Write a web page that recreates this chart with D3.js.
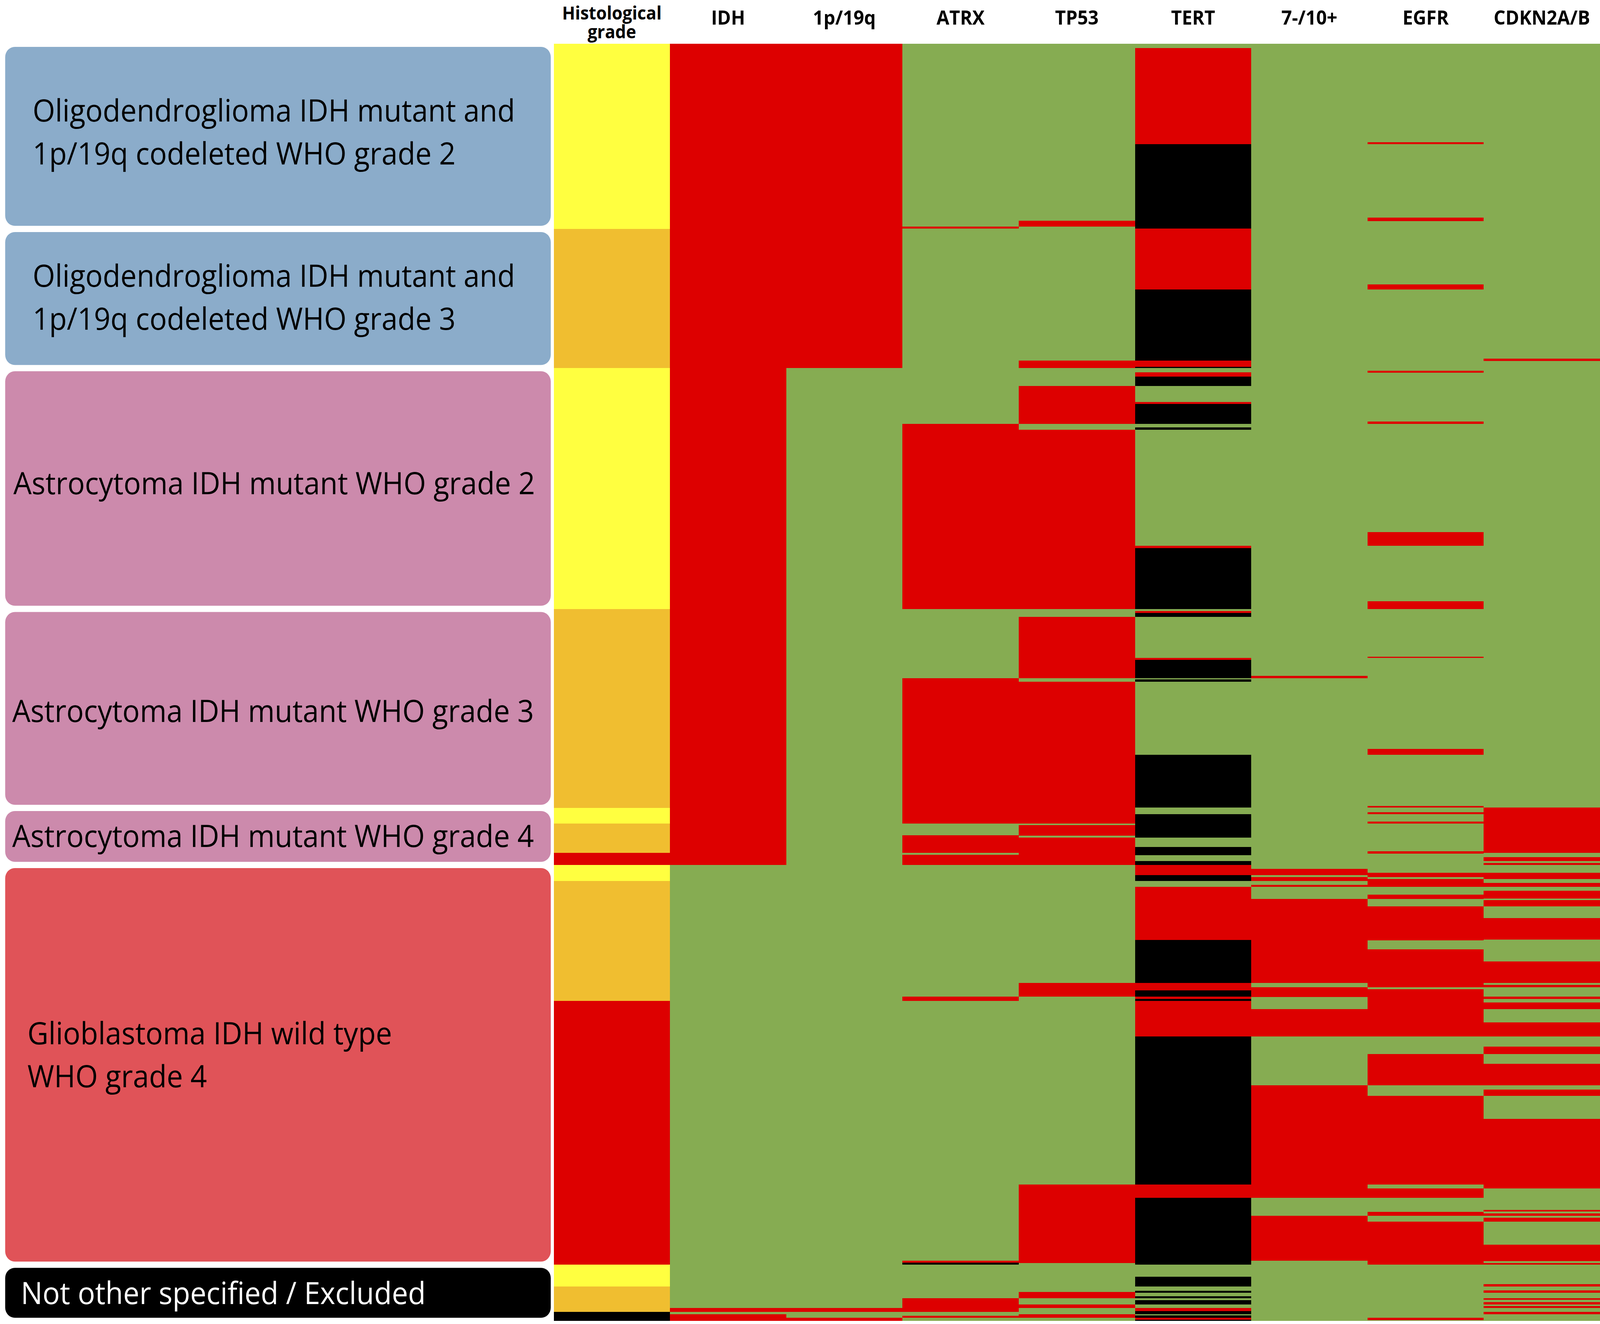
<!DOCTYPE html>
<html>
<head>
<meta charset="utf-8">
<script src="https://cdn.jsdelivr.net/npm/d3@7"></script>
<style>
  html, body { margin: 0; padding: 0; background: #fff; width: 100%; height: 100%; overflow: hidden; }
  #chart { width: 100vw; height: 100vh; }
  svg { display: block; width: 100vw; height: 100vh; }
</style>
</head>
<body>
<div id="chart"></div>
<script>
// ---- data (row index of the sorted samples, 0..600) ----
const columns = ["Histological grade", "IDH", "1p/19q", "ATRX", "TP53", "TERT", "7-/10+", "EGFR", "CDKN2A/B"];
const headerLines = [["Histological", "grade"], ["IDH"], ["1p/19q"], ["ATRX"], ["TP53"], ["TERT"], ["7-/10+"], ["EGFR"], ["CDKN2A/B"]];
const totalSamples = 600;

// state codes: Y grade 2, O grade 3, R grade 4 / altered, K not available, G wild type / not altered
const histGrade = [
  [0, 87, "Y"], [87, 152.4, "O"], [152.4, 265.5, "Y"], [265.5, 359, "O"], [359, 366.3, "Y"],
  [366.3, 380.2, "O"], [380.2, 385.8, "R"], [385.8, 393.3, "Y"], [393.3, 449.7, "O"],
  [449.7, 573.6, "R"], [573.6, 583.9, "Y"], [583.9, 595.8, "O"], [595.8, 600, "K"]
];
const idh = [[0, 385.8, "R"], [594, 595.8, "R"], [596.8, 600, "R"]];
const codel = [[0, 152.4, "R"], [594, 595.8, "R"], [598.6, 600, "R"]];
const atrx = [
  [85.9, 86.9, "R"], [178.5, 265.5, "R"], [298, 366.3, "R"], [371.9, 380.2, "R"], [381.1, 385.8, "R"],
  [447.7, 449.7, "R"], [571.7, 572.6, "R"], [572.6, 573.6, "K"], [589.4, 595.8, "R"], [597.7, 598.6, "R"]
];
const tp53 = [
  [83.2, 85.9, "R"], [148.8, 152.4, "R"], [160.8, 178.5, "R"], [181.4, 265.5, "R"], [269.2, 298, "R"],
  [299.7, 366.3, "R"], [367, 372, "R"], [373, 385.8, "R"], [441.3, 447.7, "R"], [535.9, 572.8, "R"],
  [586.5, 589.4, "R"], [592.2, 594, "R"], [596.8, 598.6, "R"]
];
const tert = [
  [2, 47.1, "R"], [47.1, 86.8, "K"], [86.8, 115.5, "R"], [115.5, 148.8, "K"], [148.8, 151.7, "R"],
  [151.7, 152.4, "K"], [154.4, 156.3, "R"], [156.3, 160.8, "K"], [168.3, 169.3, "R"], [169.3, 178.5, "K"],
  [180.2, 181.4, "K"], [235.9, 236.9, "R"], [236.9, 265.5, "K"], [266.5, 267.5, "R"], [267.5, 269.2, "K"],
  [288.6, 289.4, "R"], [289.4, 298, "K"], [298.6, 299.7, "K"], [334.1, 358.9, "K"], [361.9, 372.9, "K"],
  [377.4, 381.2, "K"], [384, 385.8, "K"], [385.8, 390.5, "R"], [390.5, 393.3, "K"], [396, 421, "R"],
  [421, 441.3, "K"], [441.3, 444.7, "R"], [444.7, 447.7, "K"], [447.7, 448.7, "R"], [448.7, 449.7, "K"],
  [449.7, 466.3, "R"], [466.3, 535.9, "K"], [535.9, 542.1, "R"], [542.1, 573.6, "K"], [579.2, 583.9, "K"],
  [585.8, 586.7, "K"], [588.4, 589.4, "K"], [590.3, 592.2, "K"], [594, 595.5, "R"], [595.5, 596.8, "K"],
  [597.5, 598.5, "K"], [598.5, 599.5, "R"], [599.5, 600, "K"]
];
const chr7chr10 = [
  [297, 298, "R"], [387.6, 390.5, "R"], [391.5, 393.3, "R"], [395.1, 396, "R"], [401.8, 441.3, "R"],
  [443.3, 447.9, "R"], [453.5, 466.3, "R"], [489.4, 542.1, "R"], [550.6, 571.8, "R"]
];
const egfr = [
  [46.3, 47.2, "R"], [81.7, 83.4, "R"], [113, 115.5, "R"], [153.6, 154.6, "R"], [177.5, 178.5, "R"],
  [229.4, 235.9, "R"], [261.9, 265.5, "R"], [287.9, 288.6, "R"], [331.3, 334.1, "R"], [358, 358.9, "R"],
  [361, 361.9, "R"], [365.4, 366.3, "R"], [379.3, 380.4, "R"], [389.4, 391.5, "R"], [392.5, 396, "R"],
  [399.7, 401.8, "R"], [405.3, 421.2, "R"], [425.5, 443.3, "R"], [444.2, 466.3, "R"], [474.7, 489.4, "R"],
  [494.2, 535.9, "R"], [537.7, 542.1, "R"], [548.8, 550.6, "R"], [553.3, 573.6, "R"], [598.6, 599.6, "R"]
];
const cdkn2ab = [
  [148, 149, "R"], [358.9, 380.2, "R"], [382.2, 384, "R"], [384.8, 385.8, "R"], [389.4, 392.5, "R"],
  [394.3, 396, "R"], [398, 401.6, "R"], [402.4, 405.3, "R"], [410.8, 420.9, "R"], [431.1, 441.3, "R"],
  [442.2, 443.3, "R"], [447.7, 448.7, "R"], [450.5, 453.5, "R"], [459.8, 466.3, "R"], [471.2, 474.7, "R"],
  [479.3, 489.4, "R"], [491.4, 494.2, "R"], [505.1, 537.7, "R"], [547.9, 548.6, "R"], [549.6, 550.6, "R"],
  [551.6, 553.3, "R"], [564.2, 572, "R"], [572.8, 573.6, "R"], [582.8, 583.8, "R"], [585.7, 586.7, "R"],
  [589.3, 590.1, "R"], [591.1, 592.2, "R"], [593.1, 594, "R"], [595.8, 596.9, "R"]
];
const columnSegments = [histGrade, idh, codel, atrx, tp53, tert, chr7chr10, egfr, cdkn2ab];

// diagnosis groups
const groupLabels = [
  ["Oligodendroglioma IDH mutant and", "1p/19q codeleted WHO grade 2"],
  ["Oligodendroglioma IDH mutant and", "1p/19q codeleted WHO grade 3"],
  ["Astrocytoma IDH mutant WHO grade 2"],
  ["Astrocytoma IDH mutant WHO grade 3"],
  ["Astrocytoma IDH mutant WHO grade 4"],
  ["Glioblastoma IDH wild type", "WHO grade 4"],
  ["Not other specified / Excluded"]
];
const groupBounds = [[0, 87], [87, 152.4], [152.4, 265.5], [265.5, 359], [359, 385.8], [385.8, 573.6], [573.6, 600]];
const groupColors = ["#8BACCA", "#8BACCA", "#CC8AAC", "#CC8AAC", "#CC8AAC", "#E05358", "#000000"];
const groupTextColors = ["#000", "#000", "#000", "#000", "#000", "#000", "#fff"];

// ---- layout ----
const width = 4317;
const height = 3389;
const stateColor = { Y: "#FFFF40", O: "#F0BE30", R: "#DD0000", K: "#000000", G: "#86AC52" };
const labelX = [88, 88, 36, 33, 33, 74, 56];
const labelDy = [-14, -6, -16, 4, -4, -28, -2];

const svg = d3.select("#chart")
  .append("svg")
  .attr("viewBox", `0 0 ${width} ${height}`)
  .attr("preserveAspectRatio", "none")
  .style("background", "#fff");

const x = d3.scaleBand().domain(columns).range([1494, 4317]).padding(0);
const y = d3.scaleLinear().domain([0, totalSamples]).range([112, 3381]);

// heatmap
const heat = svg.append("g").attr("shape-rendering", "crispEdges");
columns.forEach((col, i) => {
  const g = heat.append("g");
  if (i > 0) {
    g.append("rect")
      .attr("x", x(col))
      .attr("y", y(0))
      .attr("width", x.bandwidth())
      .attr("height", y(totalSamples) - y(0))
      .attr("fill", stateColor.G);
  }
  g.selectAll("rect.seg")
    .data(columnSegments[i])
    .enter()
    .append("rect")
    .attr("class", "seg")
    .attr("x", x(col))
    .attr("y", (d) => y(d[0]))
    .attr("width", x.bandwidth())
    .attr("height", (d) => y(d[1]) - y(d[0]))
    .attr("fill", (d) => stateColor[d[2]]);
});

// column headers
const header = svg.append("g")
  .attr("font-family", "'Open Sans', sans-serif")
  .attr("font-weight", "bold")
  .attr("text-anchor", "middle")
  .attr("fill", "#000");
columns.forEach((col, i) => {
  const lines = headerLines[i];
  lines.forEach((line, j) => {
    header.append("text")
      .attr("x", x(col) + x.bandwidth() / 2)
      .attr("y", lines.length > 1 ? 50 + j * 48 : 63)
      .attr("font-size", lines.length > 1 ? 46 : 50)
      .text(line);
  });
});

// diagnosis boxes
const boxes = svg.append("g");
groupLabels.forEach((lines, i) => {
  const top = y(groupBounds[i][0]) + 8;
  const bottom = Math.min(y(groupBounds[i][1]) - 8, height - 10);
  boxes.append("rect")
    .attr("x", 14)
    .attr("y", top)
    .attr("width", 1472)
    .attr("height", bottom - top)
    .attr("rx", 26)
    .attr("ry", 26)
    .attr("fill", groupColors[i]);

  const mid = (top + bottom) / 2 + labelDy[i];
  const lineGap = 110;
  const t = boxes.append("text")
    .attr("font-family", "'Open Sans', sans-serif")
    .attr("font-size", 78)
    .attr("fill", groupTextColors[i])
    .attr("dominant-baseline", "central");
  lines.forEach((line, j) => {
    t.append("tspan")
      .attr("x", labelX[i])
      .attr("y", mid + (j - (lines.length - 1) / 2) * lineGap)
      .text(line);
  });
});
</script>
</body>
</html>
